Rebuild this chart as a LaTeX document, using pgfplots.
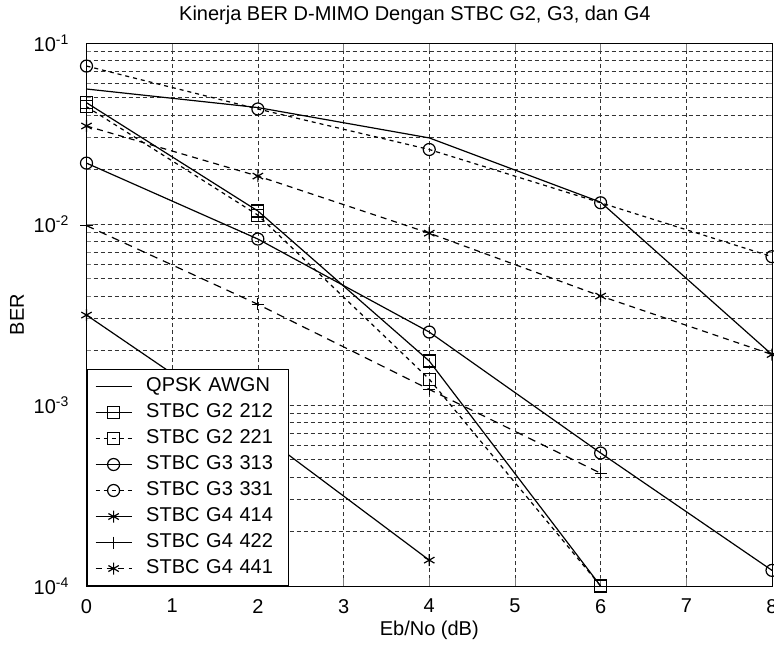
\documentclass[border=0pt]{standalone}
\usepackage{pgfplots}
\pgfplotsset{compat=1.18}
\usepackage{fontspec}
\setmainfont{Liberation Sans}

\begin{document}
\begin{tikzpicture}
\useasboundingbox (-43.25pt,-29pt) rectangle (343.75pt,293pt);
\begin{semilogyaxis}[
  at={(0,0)}, anchor=south west,
  scale only axis,
  width=342.75pt, height=271.5pt,
  xmin=0, xmax=8, ymin=1e-4, ymax=1e-1,
  xtick={0,1,...,8},
  ytick={1e-4,1e-3,1e-2,1e-1},
  yticklabels={10\textsuperscript{-4},10\textsuperscript{-3},10\textsuperscript{-2},10\textsuperscript{-1}},
  /pgf/number format/assume math mode=true,
  font=\fontsize{10}{12}\selectfont,
  ticklabel style={font=\fontsize{10}{12}\selectfont},
  xticklabel style={yshift=-3pt},
  yticklabel style={xshift=-5pt},
  tick align=inside,
  major tick length=4pt, minor tick length=2pt,
  xmajorgrids, ymajorgrids, yminorgrids,
  grid style={black!80, line width=0.35pt, dash pattern=on 2pt off 1.5pt},
  minor grid style={black!80, line width=0.35pt, dash pattern=on 2pt off 1.5pt},
  axis line style={black, line width=0.5pt},
  every axis title shift=0pt,
  title={Kinerja BER D-MIMO Dengan STBC G2, G3, dan G4},
  title style={at={(axis description cs:0.479,1.0516)}, anchor=center, font=\fontsize{10}{12}\selectfont},
  xlabel={Eb/No (dB)},
  xlabel style={at={(axis description cs:0.5,-0.081)}, anchor=center},
  ylabel={BER},
  ylabel style={at={(axis description cs:-0.1014,0.5)}, anchor=center},
  every axis plot/.append style={black, line width=0.6pt, mark options={solid, line width=0.6pt}, mark size=3pt},
  legend cell align=left,
  legend style={at={(0,0)}, anchor=south west, draw=black, fill=white,
    line width=0.5pt, inner xsep=4pt, inner ysep=2pt,
    font=\fontsize{10}{12}\selectfont,
    nodes={inner sep=1pt, text height=8pt, text depth=3pt},
    /tikz/every odd column/.append style={column sep=6pt},
    /tikz/every even column/.append style={text width=66pt}},
  legend image code/.code={\draw[mark repeat=2,mark phase=2] plot coordinates {(0pt,0pt)(9pt,0pt)(18pt,0pt)};},
]
% QPSK reference curve
\addplot[solid] coordinates {(0,0.0557)(2,0.0440)(4,0.0299)(6,0.0132)(8,0.0019)};
\addlegendentry{QPSK AWGN}
% Alamouti G2
\addplot[solid, mark=square] coordinates {(0,0.0468)(2,0.0118)(4,0.00175)(6,0.000100)};
\addlegendentry{STBC G2 212}
\addplot[dash pattern=on 2pt off 2pt, mark=square] coordinates {(0,0.0445)(2,0.0112)(4,0.00139)(6,0.000100)};
\addlegendentry{STBC G2 221}
% G3
\addplot[solid, mark=o] coordinates {(0,0.0217)(2,0.00826)(4,0.00253)(6,0.000543)(8,0.000122)};
\addlegendentry{STBC G3 313}
\addplot[dash pattern=on 2pt off 2pt, mark=o] coordinates {(0,0.0746)(2,0.0432)(4,0.0258)(6,0.0131)(8,0.0066)};
\addlegendentry{STBC G3 331}
% G4
\addplot[solid, mark=asterisk] coordinates {(0,0.00314)(2,0.00071)(4,0.000139)};
\addlegendentry{STBC G4 414}
\addlegendimage{solid, mark=+, mark options={solid}}
\addlegendentry{STBC G4 422}
\addplot[dash pattern=on 4pt off 3pt, mark=+, forget plot] coordinates {(0,0.0098)(2,0.0036)(4,0.00122)(6,0.00042)};
\addplot[dash pattern=on 3pt off 2.5pt, mark=asterisk] coordinates {(0,0.0348)(2,0.0184)(4,0.0089)(6,0.0040)(8,0.0019)};
\addlegendentry{STBC G4 441}
\end{semilogyaxis}
\end{tikzpicture}
\end{document}
